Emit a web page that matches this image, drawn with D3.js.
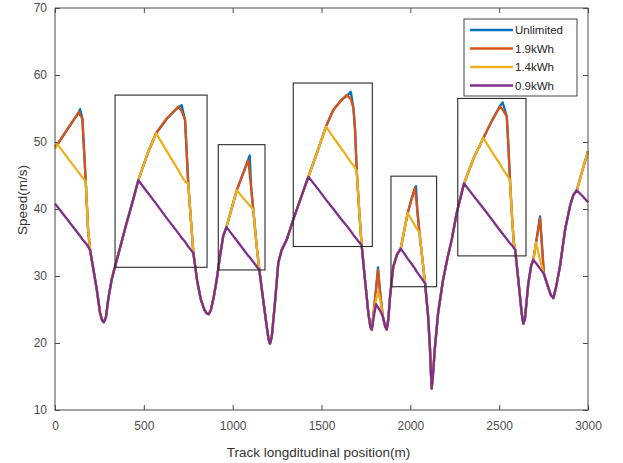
<!DOCTYPE html>
<html>
<head>
<meta charset="utf-8">
<script src="https://cdn.jsdelivr.net/npm/d3@7"></script>
<style>
  body { margin: 0; background: #fff; }
  svg text { font-family: "Liberation Sans", Arial, Helvetica, sans-serif; }
</style>
</head>
<body>
<svg id="chart" width="623" height="463"></svg>
<script>
// Track position (m) shared by all four speed profiles
const position = [
  0, 15, 135, 141, 154, 173, 186, 198, 216, 235, 253, 265, 275, 287, 300, 320, 338, 360, 400, 440,
  469, 520, 569, 630, 694, 713, 732, 750, 765, 779, 800, 820, 840, 855, 865, 877, 893, 910, 930, 947,
  965, 1023, 1060, 1088, 1096, 1104, 1116, 1133, 1150, 1172, 1192, 1202, 1210, 1220, 1238, 1257, 1276, 1304, 1341, 1379,
  1426, 1480, 1525, 1567, 1610, 1642, 1665, 1680, 1689, 1698, 1713, 1726, 1745, 1764, 1775, 1783, 1795, 1807, 1818, 1830,
  1845, 1858, 1867, 1876, 1886, 1904, 1925, 1946, 1985, 2005, 2026, 2032, 2040, 2051, 2067, 2083, 2100, 2110, 2116, 2120,
  2126, 2139, 2156, 2184, 2210, 2233, 2261, 2302, 2355, 2411, 2460, 2505, 2520, 2543, 2552, 2561, 2571, 2582, 2590, 2608,
  2627, 2636, 2645, 2664, 2680, 2692, 2708, 2730, 2752, 2770, 2790, 2805, 2820, 2842, 2871, 2900, 2918, 2937, 2970, 3000
];

// Speed (m/s) for the unlimited energy case
const unlimited = [
  49.3, 49.7, 54.5, 54.9, 53.5, 44.1, 37.0, 33.8, 31.0, 28.0, 24.6, 23.4, 23.1, 23.9, 26.6, 29.6, 31.4, 33.6, 37.6, 41.4,
  44.3, 48.2, 51.3, 53.5, 55.2, 55.5, 53.3, 43.8, 38.3, 33.4, 29.3, 26.6, 25.0, 24.4, 24.3, 24.9, 26.8, 29.4, 33.2, 36.0,
  37.3, 42.8, 45.4, 47.4, 48.0, 43.2, 39.9, 35.0, 30.9, 26.4, 22.4, 20.6, 19.9, 20.9, 26.0, 32.0, 33.9, 35.4, 38.4, 41.3,
  44.8, 48.8, 52.3, 54.8, 56.2, 56.9, 57.5, 55.0, 51.8, 45.8, 39.4, 34.6, 29.4, 24.4, 22.4, 22.0, 25.0, 28.0, 31.3, 27.5,
  24.0, 22.5, 22.0, 23.5, 27.0, 31.4, 33.2, 34.1, 39.4, 41.3, 43.2, 43.4, 39.6, 36.6, 32.7, 28.9, 24.0, 19.5, 15.5, 13.2,
  14.8, 19.5, 24.4, 29.4, 32.8, 35.4, 39.4, 43.8, 47.5, 50.6, 53.2, 55.4, 55.9, 53.8, 49.3, 44.3, 39.4, 35.0, 33.9, 29.4,
  24.4, 22.9, 23.6, 28.9, 31.5, 32.4, 35.0, 38.9, 30.3, 28.8, 27.2, 26.7, 28.3, 31.4, 36.9, 40.6, 42.1, 42.8, 45.9, 48.6
];

// Speed (m/s) with a 1.9 kWh energy limit
const limit19 = [
  49.3, 49.7, 54.5, 54.0, 53.5, 44.1, 37.0, 33.8, 31.0, 28.0, 24.6, 23.4, 23.1, 23.9, 26.6, 29.6, 31.4, 33.6, 37.6, 41.4,
  44.3, 48.2, 51.3, 53.5, 55.3, 54.6, 53.3, 43.8, 38.3, 33.4, 29.3, 26.6, 25.0, 24.4, 24.3, 24.9, 26.8, 29.4, 33.2, 36.0,
  37.3, 42.8, 45.4, 47.3, 45.2, 43.2, 39.9, 35.0, 30.9, 26.4, 22.4, 20.6, 19.9, 20.9, 26.0, 32.0, 33.9, 35.4, 38.4, 41.3,
  44.8, 48.8, 52.3, 54.8, 56.2, 57.0, 56.4, 55.0, 51.8, 45.8, 39.4, 34.6, 29.4, 24.4, 22.4, 22.0, 25.0, 28.0, 30.9, 27.5,
  24.0, 22.5, 22.0, 23.5, 27.0, 31.4, 33.2, 34.1, 39.4, 41.3, 43.1, 41.6, 39.6, 36.6, 32.7, 28.9, 24.0, 19.5, 15.5, 13.2,
  14.8, 19.5, 24.4, 29.4, 32.8, 35.4, 39.4, 43.8, 47.5, 50.6, 53.2, 55.3, 54.8, 53.8, 49.3, 44.3, 39.4, 35.0, 33.9, 29.4,
  24.4, 22.9, 23.6, 28.9, 31.5, 32.4, 35.0, 38.6, 30.3, 28.8, 27.2, 26.7, 28.3, 31.4, 36.9, 40.6, 42.1, 42.8, 45.9, 48.6
];

// Speed (m/s) with a 1.4 kWh energy limit
const limit14 = [
  49.0, 49.6, 45.4, 45.2, 44.7, 44.1, 37.0, 33.8, 31.0, 28.0, 24.6, 23.4, 23.1, 23.9, 26.6, 29.6, 31.4, 33.6, 37.6, 41.4,
  44.3, 48.2, 51.3, 48.6, 45.8, 44.9, 44.1, 43.8, 38.3, 33.4, 29.3, 26.6, 25.0, 24.4, 24.3, 24.9, 26.8, 29.4, 33.2, 36.0,
  37.3, 42.8, 41.6, 40.8, 40.5, 40.3, 39.9, 35.0, 30.9, 26.4, 22.4, 20.6, 19.9, 20.9, 26.0, 32.0, 33.9, 35.4, 38.4, 41.3,
  44.8, 48.8, 52.3, 50.7, 49.1, 47.9, 47.0, 46.5, 46.1, 45.8, 39.4, 34.6, 29.4, 24.4, 22.4, 22.0, 24.6, 26.5, 27.7, 26.5,
  24.0, 22.5, 22.0, 23.5, 27.0, 31.4, 33.2, 34.1, 39.4, 38.5, 37.5, 37.3, 36.9, 36.6, 32.7, 28.9, 24.0, 19.5, 15.5, 13.2,
  14.8, 19.5, 24.4, 29.4, 32.8, 35.4, 39.4, 43.8, 47.5, 50.6, 48.5, 46.7, 46.0, 45.1, 44.7, 44.3, 39.4, 35.0, 33.9, 29.4,
  24.4, 22.9, 23.6, 28.9, 31.5, 32.4, 35.0, 32.4, 30.3, 28.8, 27.2, 26.7, 28.3, 31.4, 36.9, 40.6, 42.1, 42.8, 45.9, 48.6
];

// Speed (m/s) with a 0.9 kWh energy limit
const limit09 = [
  40.8, 40.3, 36.2, 36.0, 35.5, 34.9, 34.4, 33.8, 31.0, 28.0, 24.6, 23.4, 23.1, 23.9, 26.6, 29.6, 31.4, 33.6, 37.6, 41.4,
  44.3, 42.5, 40.8, 38.6, 36.4, 35.7, 35.1, 34.4, 33.9, 33.4, 29.3, 26.6, 25.0, 24.4, 24.3, 24.9, 26.8, 29.4, 33.2, 36.0,
  37.3, 35.3, 34.0, 33.0, 32.8, 32.5, 32.1, 31.5, 30.9, 26.4, 22.4, 20.6, 19.9, 20.9, 26.0, 32.0, 33.9, 35.4, 38.4, 41.3,
  44.8, 43.0, 41.4, 40.0, 38.5, 37.5, 36.7, 36.1, 35.8, 35.5, 35.0, 34.6, 29.4, 24.4, 22.4, 22.0, 24.0, 25.8, 25.3, 24.8,
  24.0, 22.5, 22.0, 23.5, 27.0, 31.4, 33.2, 34.1, 32.6, 31.9, 31.1, 30.8, 30.5, 30.1, 29.5, 28.9, 24.0, 19.5, 15.5, 13.2,
  14.8, 19.5, 24.4, 29.4, 32.8, 35.4, 39.4, 43.8, 42.0, 40.1, 38.4, 36.8, 36.3, 35.5, 35.2, 34.9, 34.6, 34.2, 33.9, 29.4,
  24.4, 22.9, 23.6, 28.9, 31.5, 32.4, 31.9, 31.1, 30.3, 28.8, 27.2, 26.7, 28.3, 31.4, 36.9, 40.6, 42.1, 42.8, 41.9, 41.0
];

const seriesNames = ["Unlimited", "1.9kWh", "1.4kWh", "0.9kWh"];
const seriesColors = ["#0072BD", "#D95319", "#EDB120", "#7E2F8E"];
const xTicks = [0, 500, 1000, 1500, 2000, 2500, 3000];
const yTicks = [10, 20, 30, 40, 50, 60, 70];

// Highlighted regions (position range in m, speed range in m/s)
const boxStart = [338, 919, 1341, 1891, 2267];
const boxEnd   = [856, 1182, 1786, 2148, 2651];
const boxLow   = [31.3, 30.9, 34.4, 28.4, 33.0];
const boxHigh  = [57.0, 49.6, 58.8, 44.9, 56.5];

const W = 623, H = 463;
const margin = { top: 8, right: 35, bottom: 53, left: 55 };
const innerW = W - margin.left - margin.right;
const innerH = H - margin.top - margin.bottom;

const svg = d3.select("#chart");
const g = svg.append("g").attr("transform", `translate(${margin.left},${margin.top})`);

const x = d3.scaleLinear().domain([0, 3000]).range([0, innerW]);
const y = d3.scaleLinear().domain([10, 70]).range([innerH, 0]);

const axisColor = "#4a4a4a";
const labelColor = "#4d4d4d";

// Bottom and left axes with inward ticks
const xAxis = g.append("g").attr("transform", `translate(0,${innerH})`)
  .call(d3.axisBottom(x).tickValues(xTicks).tickSize(-5).tickPadding(11).tickFormat(d3.format("d")));
const yAxis = g.append("g")
  .call(d3.axisLeft(y).tickValues(yTicks).tickSize(-5).tickPadding(8).tickFormat(d3.format("d")));
// Top and right axes: ticks only
const xTop = g.append("g")
  .call(d3.axisTop(x).tickValues(xTicks).tickSize(-5).tickFormat(""));
const yRight = g.append("g").attr("transform", `translate(${innerW},0)`)
  .call(d3.axisRight(y).tickValues(yTicks).tickSize(-5).tickFormat(""));

[xAxis, yAxis, xTop, yRight].forEach(a => {
  a.select(".domain").remove();
  a.selectAll(".tick line").attr("stroke", axisColor).attr("stroke-width", 1);
  a.selectAll(".tick text").attr("fill", labelColor).attr("font-size", 12);
});

// Speed profiles, drawn so that the lower-energy cases lie on top
const seriesValues = [unlimited, limit19, limit14, limit09];
const line = d3.line().x(d => x(d[0])).y(d => y(d[1]));
seriesValues.forEach((vals, i) => {
  const pts = position.map((p, k) => [p, vals[k]]);
  g.append("path")
    .datum(pts)
    .attr("fill", "none")
    .attr("stroke", seriesColors[i])
    .attr("stroke-width", 2.3)
    .attr("stroke-linejoin", "round")
    .attr("d", line);
});

// Highlight boxes
boxStart.forEach((s, i) => {
  g.append("rect")
    .attr("x", x(s))
    .attr("y", y(boxHigh[i]))
    .attr("width", x(boxEnd[i]) - x(s))
    .attr("height", y(boxLow[i]) - y(boxHigh[i]))
    .attr("fill", "none")
    .attr("stroke", "#2a2a2a")
    .attr("stroke-width", 1.1);
});

// Axes frame
g.append("rect")
  .attr("x", 0).attr("y", 0).attr("width", innerW).attr("height", innerH)
  .attr("fill", "none").attr("stroke", axisColor).attr("stroke-width", 1);

// Axis titles
svg.append("text")
  .attr("x", margin.left + innerW / 2 - 3)
  .attr("y", 457)
  .attr("text-anchor", "middle")
  .attr("font-size", 13.5)
  .attr("fill", "#333")
  .text("Track longditudinal position(m)");

svg.append("text")
  .attr("transform", `translate(27,200) rotate(-90)`)
  .attr("text-anchor", "middle")
  .attr("font-size", 13.5)
  .attr("fill", "#333")
  .text("Speed(m/s)");

// Legend
const legend = svg.append("g").attr("transform", "translate(464,19)");
legend.append("rect")
  .attr("x", 0).attr("y", 0).attr("width", 113).attr("height", 77)
  .attr("fill", "#fff").attr("stroke", "#444").attr("stroke-width", 1);
seriesNames.forEach((name, i) => {
  const ly = 11 + i * 18.5;
  legend.append("line")
    .attr("x1", 6).attr("x2", 49).attr("y1", ly).attr("y2", ly)
    .attr("stroke", seriesColors[i]).attr("stroke-width", 2.3);
  legend.append("text")
    .attr("x", 51).attr("y", ly + 4)
    .attr("font-size", 11.5)
    .attr("fill", "#222")
    .text(name);
});
</script>
</body>
</html>
